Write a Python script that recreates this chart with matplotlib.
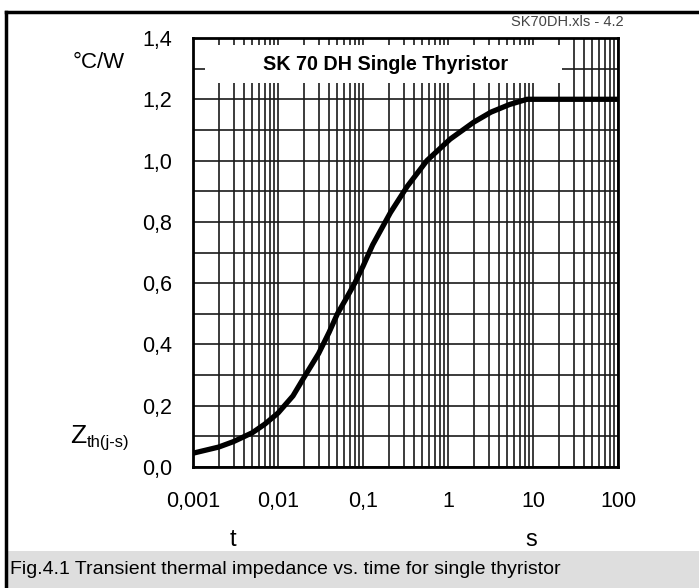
import matplotlib

matplotlib.use("Agg")
import matplotlib.pyplot as plt
from matplotlib.lines import Line2D
from matplotlib.patches import Rectangle
from matplotlib.ticker import FixedLocator, NullFormatter

plt.rcParams["font.family"] = ["Liberation Sans", "DejaVu Sans"]

# transient thermal impedance Zth(j-s)
t_s = [0.001, 0.002, 0.003, 0.005, 0.007, 0.01, 0.015, 0.02, 0.03, 0.04,
       0.05, 0.065, 0.08, 0.1, 0.13, 0.21, 0.33, 0.565, 1.06, 1.5, 2.0,
       3.2, 5.3, 8.5, 100]
zth = [0.045, 0.065, 0.083, 0.112, 0.14, 0.176, 0.232, 0.29, 0.37, 0.44,
       0.50, 0.555, 0.60, 0.655, 0.725, 0.83, 0.915, 1.00, 1.07, 1.10,
       1.125, 1.158, 1.183, 1.20, 1.20]

x_ticks = [0.001, 0.01, 0.1, 1, 10, 100]
x_labels = ["0,001", "0,01", "0,1", "1", "10", "100"]
y_ticks = [0.0, 0.2, 0.4, 0.6, 0.8, 1.0, 1.2, 1.4]
y_labels = ["0,0", "0,2", "0,4", "0,6", "0,8", "1,0", "1,2", "1,4"]

W, H = 699, 588
fig = plt.figure(figsize=(W / 100, H / 100), dpi=100)
ax = fig.add_axes([193 / W, (H - 467) / H, 425 / W, 429 / H])
ax.set_xscale("log")
ax.set_xlim(0.001, 100)
ax.set_ylim(0, 1.4)

# grid: every 0.1 vertically, 1..9 per decade horizontally
minor_x = [m * 10.0 ** e for e in range(-3, 2) for m in range(2, 10)]
ax.xaxis.set_major_locator(FixedLocator(x_ticks))
ax.xaxis.set_minor_locator(FixedLocator(minor_x))
ax.xaxis.set_minor_formatter(NullFormatter())
ax.set_xticklabels(x_labels)
ax.yaxis.set_major_locator(FixedLocator(y_ticks))
ax.yaxis.set_minor_locator(FixedLocator([0.1, 0.3, 0.5, 0.7, 0.9, 1.1, 1.3]))
ax.set_yticklabels(y_labels)
ax.set_axisbelow(True)
ax.grid(True, which="both", color="#1a1a1a", lw=1.2)
ax.tick_params(which="both", length=0, labelsize=15.5, colors="black")
ax.tick_params(axis="x", pad=17)
ax.tick_params(axis="y", pad=15)
for s in ax.spines.values():
    s.set_linewidth(2)

# white title box hiding the grid
ax.add_patch(Rectangle((0.028, 1.253), 0.84, 0.124, transform=ax.get_yaxis_transform(),
                       facecolor="white", edgecolor="none", zorder=1))
ax.text(0.454, 1.312, "SK 70 DH Single Thyristor", transform=ax.get_yaxis_transform(),
        ha="center", va="center", fontsize=14.2, fontweight="bold", zorder=2)

ax.plot(t_s, zth, color="black", lw=3.8, zorder=3, solid_capstyle="butt",
        solid_joinstyle="round")

# labels around the axes
fig.text(73 / W, 1 - 63 / H, "°C/W", fontsize=16, va="center", ha="left")
fig.text(70 / W, 1 - 436 / H, "Z", fontsize=19, va="center", ha="left")
fig.text(87 / W, 1 - 443 / H, "th(j-s)", fontsize=12, va="center", ha="left")
fig.text(233 / W, 1 - 540 / H, "t", fontsize=17, va="center", ha="center")
fig.text(531 / W, 1 - 540 / H, "s", fontsize=17, va="center", ha="center")
fig.text(624 / W, 1 - 22 / H, "SK70DH.xls - 4.2", fontsize=10.5, va="center",
         ha="right", color="#444444")

# outer frame and caption strip
fig.add_artist(Line2D([6 / W, 1], [1 - 12 / H, 1 - 12 / H], color="black", lw=2.5))
fig.add_artist(Line2D([6 / W, 6 / W], [0, 1 - 12 / H], color="black", lw=2.5))
fig.add_artist(Rectangle((7 / W, 0), 1 - 7 / W, 37 / H, transform=fig.transFigure,
                         facecolor="#dedede", edgecolor="none"))
fig.text(10 / W, 1 - 569 / H,
         "Fig.4.1 Transient thermal impedance vs. time for single thyristor",
         fontsize=14, va="center", ha="left")

fig.savefig("out.png", dpi=100)
